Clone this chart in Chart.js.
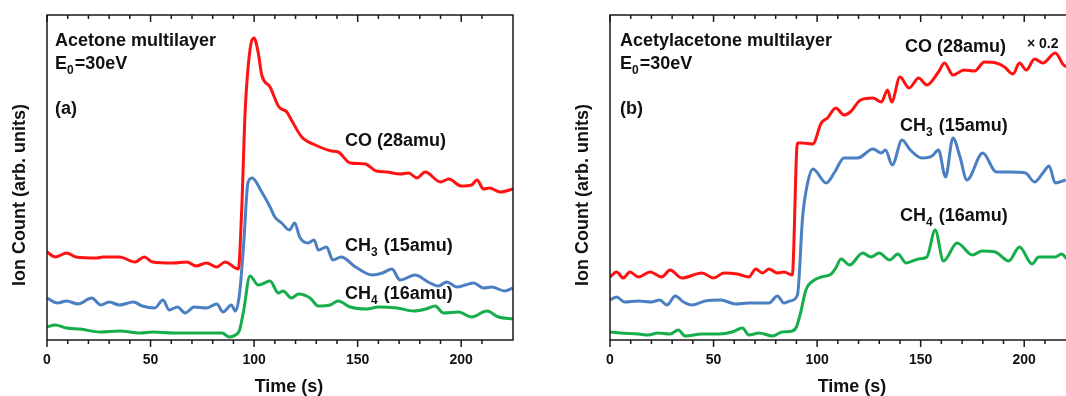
<!DOCTYPE html>
<html lang="en">
<head>
<meta charset="UTF-8">
<title>Ion Count vs Time</title>
<style>
    body, html {
        margin: 0;
        width: 1066px;
        height: 396px;
        overflow: hidden;
        background: #fff;
    }
    .panel {
        position: absolute;
        top: 0;
        width: 560px;
        height: 396px;
    }
    #panelA { left: 0; }
    #panelB { left: 563px; }
</style>
</head>
<body>
<div class="panel" id="panelA"><canvas id="chartA"></canvas></div>
<div class="panel" id="panelB"><canvas id="chartB"></canvas></div>

<script src="https://cdn.jsdelivr.net/npm/chart.js"></script>
<script>
// (a) Acetone multilayer - time (s) and ion count (arb. units)
const coA_t  = [0, 4, 9.5, 14, 24, 27, 35, 42.5, 47, 51, 61, 67.5, 72, 77, 82, 86, 92.4, 94, 95.7, 98, 100, 102, 103.7, 107.7, 112, 115.8, 118, 123, 129.5, 137.5, 140.6, 146.4, 153.6, 159, 164, 170.5, 174.6, 178.6, 182.6, 190, 194, 200, 205, 207.6, 210.8, 213.6, 218.8, 225];
const coA_y  = [88, 83, 87, 83, 82, 83, 83, 78, 83, 78, 77, 78, 74, 77, 73, 78, 71, 130, 230, 290, 302, 287, 265, 253, 233, 228, 220, 203, 195, 189, 188, 177, 176, 169, 168, 166, 167, 162, 168, 158, 161, 154, 155, 160, 151, 152, 148, 151];

const ch3A_t = [0, 5, 9.5, 15, 21.6, 26, 30, 35, 41.7, 46, 52, 56, 59, 63, 66.7, 71, 77, 82, 85, 89, 91, 93, 95, 97, 99, 103.7, 107.7, 110, 113.3, 117, 119.6, 122, 126, 129, 131, 135, 138, 142, 149, 157, 162, 166.5, 170.5, 177.8, 184, 189, 193, 198, 202, 206, 210.8, 214.8, 221, 225];
const ch3A_y = [42, 37, 39, 36, 42, 35, 38, 35, 38, 34, 32, 40, 30, 33, 27, 33, 32, 36, 28, 35, 29, 47, 97, 157, 162, 148, 133, 123, 117, 110, 117, 103, 97, 100, 90, 93, 80, 83, 73, 65, 67, 71, 60, 65, 58, 54, 58, 53, 55, 57, 52, 53, 49, 52];

const ch4A_t = [0, 4, 9.5, 16, 25.6, 35, 45, 51, 61, 71, 80.5, 84.5, 88, 91, 93, 95, 98, 102, 105, 107.7, 111.7, 114, 118, 121.5, 127, 131, 136.7, 140.6, 146.4, 154.4, 160, 169, 177, 183, 187.4, 191.4, 198.7, 205, 212.4, 218, 225];
const ch4A_y = [13, 15, 12, 11, 8, 9, 7, 8, 7, 7, 7, 7, 3, 5, 10, 30, 64, 55, 57, 59, 47, 49, 42, 46, 42, 34, 35, 39, 33, 31, 33, 32, 29, 31, 34, 27, 28, 23, 29, 23, 21];

// (b) Acetylacetone multilayer
const coB_t  = [0, 3.2, 6.4, 9.6, 13.7, 19.4, 25, 29, 34.7, 44.4, 50, 55, 61.5, 67, 70.4, 73.6, 76.8, 80.8, 84, 88, 90.5, 93, 97.9, 102, 105, 109, 113, 116, 121, 127, 131, 134, 136, 140, 144.4, 149, 153, 158.6, 161.5, 165.6, 171, 176, 180.8, 186.5, 190.5, 194.6, 197.7, 201, 205, 209, 215, 219, 222];
const coB_y  = [63, 68, 62, 68, 63, 68, 63, 70, 62, 67, 62, 67, 66, 63, 71, 67, 71, 67, 68, 65, 197, 197, 196, 217, 222, 232, 225, 228, 240, 242, 238, 250, 238, 263, 252, 262, 255, 268, 277, 265, 270, 269, 278, 277, 273, 266, 277, 270, 281, 277, 287, 275, 272];

const ch3B_t = [0, 3.2, 7, 13.7, 20, 24, 27.5, 31.5, 35.5, 39.6, 46, 53.4, 60.7, 67, 76.8, 80.8, 84, 87, 90.5, 93, 95.4, 98, 104.4, 108.5, 113, 119.6, 127, 131, 133, 136.3, 141, 145, 150.6, 155.5, 158.6, 162, 165.6, 169, 172.3, 180, 186.5, 193, 200.6, 205, 209, 212, 215, 220];
const ch3B_y = [40, 43, 38, 39, 38, 40, 35, 44, 38, 35, 39, 40, 36, 37, 37, 44, 37, 39, 45, 123, 157, 171, 157, 168, 182, 182, 191, 187, 190, 175, 200, 190, 182, 184, 190, 163, 202, 183, 160, 187, 168, 168, 167, 158, 167, 174, 157, 160];

const ch4B_t = [0, 5, 13.7, 18.5, 23, 29, 33, 36.3, 44.4, 52.6, 59, 64, 67, 72, 78.5, 83, 88, 90, 92, 94.6, 98.7, 102, 106.8, 109, 111.6, 115.7, 122, 126, 130, 135, 139, 143, 149, 153, 157, 161, 167.6, 175, 179.6, 186, 192.5, 197.7, 203.8, 207, 215, 218, 221];
const ch4B_y = [8, 7, 6, 5, 7, 6, 10, 4, 6, 6, 8, 12, 5, 7, 4, 8, 9, 13, 27, 50, 60, 63, 66, 72, 81, 75, 87, 83, 87, 80, 86, 77, 81, 83, 110, 79, 97, 85, 89, 88, 79, 93, 76, 83, 83, 86, 80];

const xTickLabels = [0, 50, 100, 150, 200];

const FONT = 'Arial, "Liberation Sans", sans-serif';
const RED = '#ff1212', BLUE = '#4a7fc1', GREEN = '#16ad4b';

function pts(ts, ys) {
    return ts.map((t, i) => ({ x: t, y: ys[i] }));
}

// text with "_x" meaning subscript x
function drawRich(ctx, x, y, str, size) {
    let cx = x;
    for (let i = 0; i < str.length; i++) {
        if (str[i] === '_') {
            i++;
            ctx.font = 'bold ' + Math.round(size * 0.68) + 'px ' + FONT;
            ctx.fillText(str[i], cx, y + size * 0.25);
            cx += ctx.measureText(str[i]).width + 1;
        } else {
            ctx.font = 'bold ' + size + 'px ' + FONT;
            ctx.fillText(str[i], cx, y);
            cx += ctx.measureText(str[i]).width;
        }
    }
}

// frame, mirrored ticks, axis titles and labels
const framePlugin = {
    id: 'frame',
    afterDatasetsDraw(chart, args, opts) {
        const { ctx, chartArea: a, scales: { x } } = chart;
        ctx.save();
        ctx.strokeStyle = '#1a1a1a';
        ctx.lineWidth = 1.5;
        ctx.strokeRect(a.left, a.top, a.right - a.left, a.bottom - a.top);
        ctx.beginPath();
        x.ticks.forEach(t => {
            if (t.value % 10 !== 0) return;
            const px = x.getPixelForValue(t.value);
            const len = t.value % 50 === 0 ? 7 : 4;
            ctx.moveTo(px, a.bottom);
            ctx.lineTo(px, a.bottom + len);
            ctx.moveTo(px, a.top);
            ctx.lineTo(px, a.top + len);
        });
        ctx.stroke();

        ctx.fillStyle = '#111';
        ctx.textBaseline = 'alphabetic';
        (opts.notes || []).forEach(n => {
            if (n.plain) {
                ctx.font = 'bold ' + n.size + 'px ' + FONT;
                ctx.fillText(n.text, a.left + n.dx, n.y);
            } else {
                drawRich(ctx, a.left + n.dx, n.y, n.text, n.size);
            }
        });

        // axis titles
        ctx.font = 'bold 18px ' + FONT;
        ctx.textAlign = 'center';
        ctx.fillText('Time (s)', a.left + 242, 392);
        ctx.translate(a.left - 27, 195);
        ctx.rotate(-Math.PI / 2);
        ctx.textBaseline = 'middle';
        ctx.fillText('Ion Count (arb. units)', 0, 0);
        ctx.restore();
    }
};

function makeChart(id, sets, notes) {
    return new Chart(document.getElementById(id), {
        type: 'line',
        data: {
            datasets: sets.map(s => ({
                data: pts(s[0], s[1]),
                borderColor: s[2],
                borderWidth: 3,
                pointRadius: 0,
                fill: false,
                cubicInterpolationMode: 'monotone'
            }))
        },
        options: {
            responsive: true,
            maintainAspectRatio: false,
            animation: false,
            layout: { padding: { top: 15, right: 47, left: 0, bottom: 0 } },
            plugins: {
                legend: { display: false },
                tooltip: { enabled: false },
                frame: { notes: notes }
            },
            scales: {
                x: {
                    type: 'linear',
                    min: 0,
                    max: 225,
                    border: { display: false },
                    grid: { display: false, drawTicks: false },
                    ticks: {
                        stepSize: 10,
                        autoSkip: false,
                        maxRotation: 0,
                        padding: 12,
                        color: '#111',
                        font: { family: FONT, size: 14, weight: 'bold' },
                        callback: v => xTickLabels.includes(v) ? String(v) : ''
                    },
                    afterFit: s => { s.height = 56; }
                },
                y: {
                    min: 0,
                    max: 325,
                    border: { display: false },
                    grid: { display: false },
                    ticks: { display: false },
                    afterFit: s => { s.width = 47; }
                }
            }
        },
        plugins: [framePlugin]
    });
}

makeChart('chartA', [
    [coA_t, coA_y, RED],
    [ch3A_t, ch3A_y, BLUE],
    [ch4A_t, ch4A_y, GREEN]
], [
    { text: 'Acetone multilayer', dx: 8, y: 46, size: 18, plain: true },
    { text: 'E_0=30eV', dx: 8, y: 69, size: 18 },
    { text: '(a)', dx: 8, y: 114, size: 18, plain: true },
    { text: 'CO (28amu)', dx: 298, y: 146, size: 18, plain: true },
    { text: 'CH_3 (15amu)', dx: 298, y: 251, size: 18 },
    { text: 'CH_4 (16amu)', dx: 298, y: 299, size: 18 }
]);

makeChart('chartB', [
    [coB_t, coB_y, RED],
    [ch3B_t, ch3B_y, BLUE],
    [ch4B_t, ch4B_y, GREEN]
], [
    { text: 'Acetylacetone multilayer', dx: 10, y: 46, size: 18, plain: true },
    { text: 'E_0=30eV', dx: 10, y: 69, size: 18 },
    { text: '(b)', dx: 10, y: 114, size: 18, plain: true },
    { text: 'CO (28amu)', dx: 295, y: 52, size: 18, plain: true },
    { text: '\u00d7 0.2', dx: 417, y: 48, size: 14, plain: true },
    { text: 'CH_3 (15amu)', dx: 290, y: 131, size: 18 },
    { text: 'CH_4 (16amu)', dx: 290, y: 221, size: 18 }
]);
</script>
</body>
</html>
